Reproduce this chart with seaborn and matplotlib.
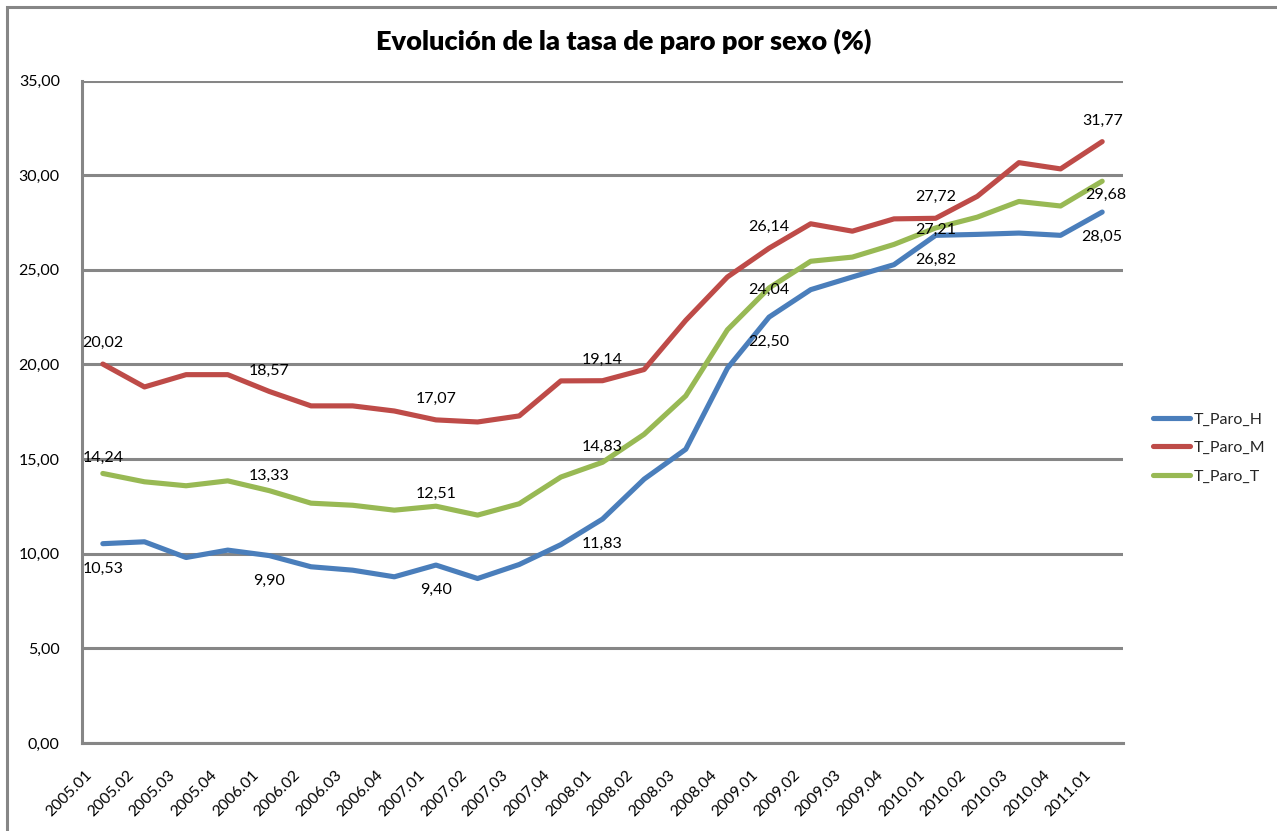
import numpy as np
import pandas as pd
import matplotlib
matplotlib.use("Agg")
import matplotlib.pyplot as plt
import matplotlib.transforms as mtransforms
from matplotlib.patches import Rectangle
import seaborn as sns

# Quarterly periods
periods = ["2005.01", "2005.02", "2005.03", "2005.04",
           "2006.01", "2006.02", "2006.03", "2006.04",
           "2007.01", "2007.02", "2007.03", "2007.04",
           "2008.01", "2008.02", "2008.03", "2008.04",
           "2009.01", "2009.02", "2009.03", "2009.04",
           "2010.01", "2010.02", "2010.03", "2010.04",
           "2011.01"]

# Unemployment rate, men
t_paro_h = [10.53, 10.63, 9.80, 10.19, 9.90, 9.31, 9.13, 8.78, 9.40, 8.69,
            9.43, 10.48, 11.83, 13.94, 15.52, 19.80, 22.50, 23.95, 24.62, 25.27,
            26.82, 26.87, 26.94, 26.82, 28.05]
# Unemployment rate, women
t_paro_m = [20.02, 18.81, 19.46, 19.46, 18.57, 17.81, 17.81, 17.54, 17.07, 16.96,
            17.28, 19.13, 19.14, 19.73, 22.33, 24.62, 26.14, 27.43, 27.04, 27.69,
            27.72, 28.88, 30.66, 30.33, 31.77]
# Unemployment rate, total
t_paro_t = [14.24, 13.80, 13.59, 13.85, 13.33, 12.67, 12.56, 12.30, 12.51, 12.04,
            12.64, 14.05, 14.83, 16.31, 18.34, 21.83, 24.04, 25.45, 25.67, 26.34,
            27.21, 27.78, 28.61, 28.37, 29.68]

series_names = ["T_Paro_H", "T_Paro_M", "T_Paro_T"]
title = "Evolución de la tasa de paro por sexo (%)"

series = {"T_Paro_H": t_paro_h, "T_Paro_M": t_paro_m, "T_Paro_T": t_paro_t}
df = pd.concat(
    [pd.DataFrame({"idx": np.arange(len(periods)), "periodo": periods,
                   "serie": name, "valor": vals})
     for name, vals in series.items()],
    ignore_index=True)

sns.set_theme(style="white")
plt.rcParams["font.family"] = ["Lato", "DejaVu Sans"]

colors = {"T_Paro_H": "#4A7EBB", "T_Paro_M": "#BE4B48", "T_Paro_T": "#98B954"}
grid_col = "#868686"

fig = plt.figure(figsize=(12.77, 8.31), dpi=100)
fig.patch.set_facecolor("white")

# outer chart frame
fig.patches.append(Rectangle((7 / 1277, -0.1), 1.2, 1 - 7 / 831 + 0.1,
                             transform=fig.transFigure, fill=False,
                             edgecolor=grid_col, linewidth=2.2, zorder=0))

ax = fig.add_axes([82 / 1277, 1 - 743 / 831, (1123 - 82) / 1277, (743 - 80.5) / 831])

sns.lineplot(data=df, x="idx", y="valor", hue="serie", hue_order=series_names,
             palette=colors, linewidth=3.7, ax=ax, legend=True,
             solid_capstyle="round", solid_joinstyle="round", zorder=3)

ax.set_xlim(-0.5, len(periods) - 0.5)
ax.set_ylim(0, 35)
ax.set_yticks(np.arange(0, 36, 5))
ax.set_yticklabels([f"{v:.2f}".replace(".", ",") for v in np.arange(0, 36, 5)],
                   fontsize=11.5, color="black")
ax.set_xticks([])
ax.tick_params(axis="both", length=0)
ax.tick_params(axis="y", pad=16)
ax.set_xlabel("")
ax.set_ylabel("")

# rotated category labels, anchored by their upper right corner
base = mtransforms.blended_transform_factory(ax.transData, ax.transAxes)
shift = mtransforms.ScaledTranslation(-0.18, -0.25, fig.dpi_scale_trans)
for i, p in enumerate(periods):
    ax.text(i, 0, p, transform=base + shift, rotation=45,
            rotation_mode="anchor", ha="right", va="top",
            fontsize=11.3, color="black", clip_on=False)

ax.yaxis.grid(True, color=grid_col, linewidth=2.2)
ax.xaxis.grid(False)
ax.set_axisbelow(True)
for side in ["top", "right"]:
    ax.spines[side].set_visible(False)
for side in ["left", "bottom"]:
    ax.spines[side].set_color(grid_col)
    ax.spines[side].set_linewidth(2.2)

# data labels every fourth quarter
label_idx = [0, 4, 8, 12, 16, 20, 24]
offsets = {
    "T_Paro_H": {i: (0, -25) for i in label_idx},
    "T_Paro_M": {i: (0, 21) for i in label_idx},
    "T_Paro_T": {0: (0, 16), 4: (0, 15), 8: (0, 12), 12: (0, 15),
                 16: (0, -2), 20: (0, -2), 24: (4, -14)},
}
for name, vals in series.items():
    for i in label_idx:
        dx, dy = offsets[name][i]
        ax.annotate(f"{vals[i]:.2f}".replace(".", ","), (i, vals[i]),
                    xytext=(dx * 0.72, dy * 0.72), textcoords="offset points",
                    ha="center", va="center", fontsize=11.5, color="black",
                    zorder=5)

leg = ax.legend(loc="center left", bbox_to_anchor=(1139 / 1277, 1 - 448 / 831),
                bbox_transform=fig.transFigure, frameon=False, fontsize=11.5,
                handlelength=2.3, handletextpad=0.2, labelspacing=0.9)
for line in leg.get_lines():
    line.set_linewidth(3.7)
    line.set_solid_capstyle("round")

fig.text(624 / 1277, 1 - 41 / 831, title, ha="center", va="center",
         fontsize=19.5, fontweight="heavy", color="black")

fig.savefig("out.png", dpi=100, facecolor="white")
